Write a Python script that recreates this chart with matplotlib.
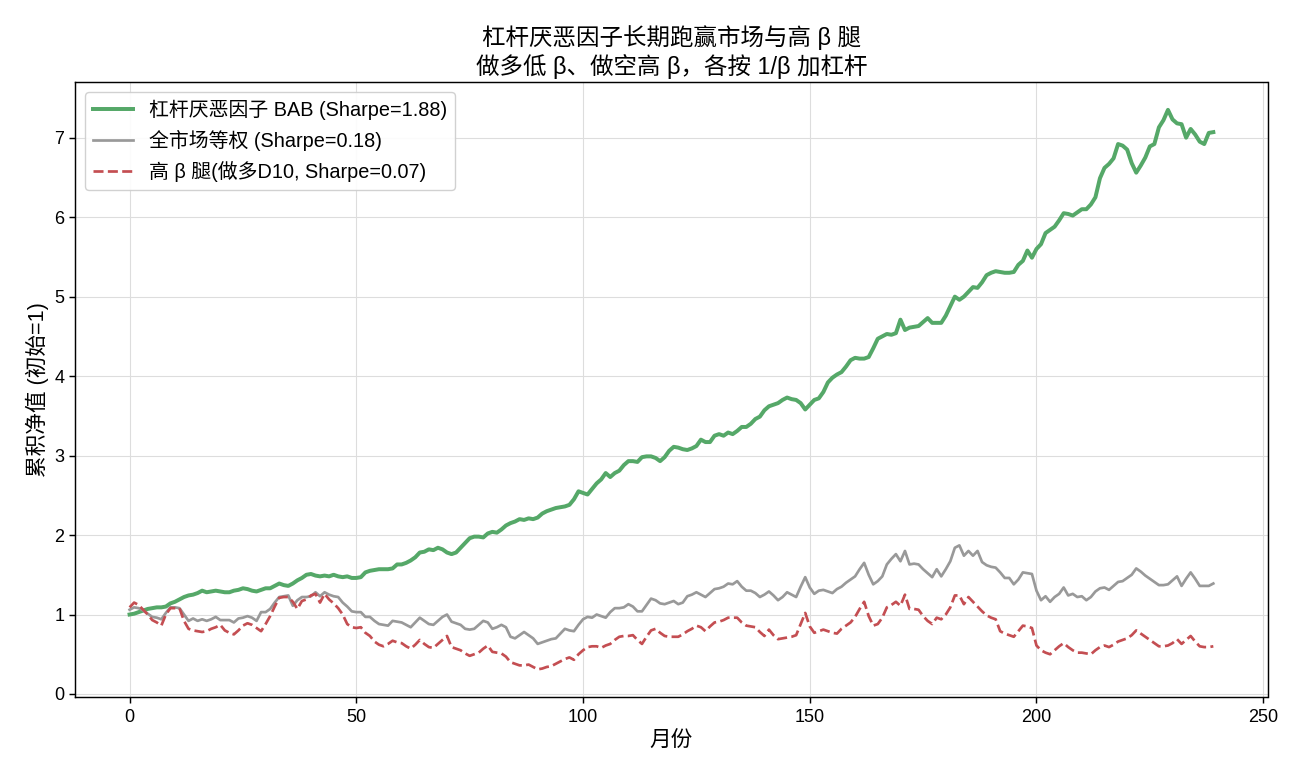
import numpy as np
import matplotlib
matplotlib.use("Agg")
import matplotlib.pyplot as plt

plt.rcParams['font.family'] = ['Liberation Sans', 'Noto Sans CJK SC', 'DejaVu Sans']
plt.rcParams['axes.unicode_minus'] = False

# 杠杆厌恶因子 BAB 累积净值
bab = [
    1.00, 1.01, 1.03, 1.05, 1.07, 1.08, 1.09, 1.09, 1.10, 1.14,
    1.16, 1.19, 1.22, 1.24, 1.25, 1.27, 1.30, 1.28, 1.29, 1.30,
    1.29, 1.28, 1.28, 1.30, 1.31, 1.33, 1.32, 1.30, 1.29, 1.31,
    1.33, 1.33, 1.36, 1.39, 1.37, 1.36, 1.39, 1.43, 1.46, 1.50,
    1.51, 1.49, 1.48, 1.49, 1.48, 1.50, 1.48, 1.47, 1.48, 1.46,
    1.46, 1.47, 1.53, 1.55, 1.56, 1.57, 1.57, 1.57, 1.58, 1.63,
    1.63, 1.65, 1.68, 1.72, 1.78, 1.79, 1.82, 1.81, 1.84, 1.82,
    1.78, 1.76, 1.78, 1.84, 1.90, 1.96, 1.98, 1.98, 1.97, 2.02,
    2.04, 2.03, 2.07, 2.12, 2.15, 2.17, 2.20, 2.19, 2.21, 2.20,
    2.22, 2.27, 2.30, 2.32, 2.34, 2.35, 2.36, 2.38, 2.45, 2.55,
    2.53, 2.51, 2.58, 2.65, 2.70, 2.78, 2.73, 2.78, 2.81, 2.88,
    2.93, 2.93, 2.92, 2.98, 2.99, 2.99, 2.97, 2.93, 2.98, 3.06,
    3.11, 3.10, 3.08, 3.07, 3.09, 3.12, 3.20, 3.17, 3.17, 3.25,
    3.27, 3.25, 3.29, 3.27, 3.31, 3.36, 3.36, 3.40, 3.46, 3.49,
    3.57, 3.62, 3.64, 3.66, 3.70, 3.73, 3.71, 3.70, 3.66, 3.58,
    3.64, 3.70, 3.72, 3.80, 3.92, 3.98, 4.02, 4.05, 4.12, 4.20,
    4.23, 4.22, 4.22, 4.24, 4.35, 4.47, 4.50, 4.53, 4.52, 4.54,
    4.71, 4.58, 4.61, 4.62, 4.63, 4.68, 4.73, 4.67, 4.67, 4.67,
    4.76, 4.88, 5.00, 4.96, 5.00, 5.06, 5.12, 5.11, 5.18, 5.27,
    5.30, 5.32, 5.31, 5.30, 5.30, 5.31, 5.40, 5.45, 5.58, 5.49,
    5.60, 5.66, 5.80, 5.84, 5.88, 5.96, 6.05, 6.04, 6.02, 6.06,
    6.10, 6.10, 6.16, 6.25, 6.49, 6.62, 6.67, 6.74, 6.92, 6.90,
    6.85, 6.68, 6.56, 6.65, 6.75, 6.89, 6.92, 7.13, 7.22, 7.35,
    7.23, 7.18, 7.17, 7.00, 7.11, 7.04, 6.95, 6.92, 7.06, 7.07,
]

# 全市场等权
mkt = [
    1.06, 1.09, 1.08, 1.05, 1.01, 0.97, 0.96, 0.94, 1.02, 1.09,
    1.09, 1.08, 1.00, 0.92, 0.95, 0.92, 0.94, 0.92, 0.94, 0.97,
    0.93, 0.93, 0.93, 0.90, 0.95, 0.96, 0.98, 0.96, 0.92, 1.03,
    1.03, 1.07, 1.15, 1.22, 1.23, 1.24, 1.11, 1.18, 1.22, 1.22,
    1.23, 1.28, 1.23, 1.28, 1.25, 1.23, 1.22, 1.15, 1.10, 1.04,
    1.03, 1.03, 0.97, 0.97, 0.92, 0.88, 0.87, 0.86, 0.92, 0.91,
    0.90, 0.87, 0.84, 0.90, 0.96, 0.92, 0.88, 0.87, 0.92, 0.97,
    1.00, 0.91, 0.89, 0.87, 0.82, 0.81, 0.82, 0.87, 0.92, 0.90,
    0.82, 0.84, 0.87, 0.84, 0.72, 0.70, 0.74, 0.78, 0.74, 0.70,
    0.63, 0.65, 0.67, 0.69, 0.70, 0.76, 0.82, 0.80, 0.79, 0.87,
    0.94, 0.97, 0.96, 1.00, 0.98, 0.96, 1.03, 1.08, 1.08, 1.09,
    1.13, 1.10, 1.04, 1.04, 1.12, 1.20, 1.18, 1.14, 1.13, 1.15,
    1.17, 1.13, 1.15, 1.23, 1.25, 1.28, 1.25, 1.22, 1.27, 1.32,
    1.33, 1.35, 1.39, 1.38, 1.42, 1.35, 1.30, 1.30, 1.27, 1.22,
    1.25, 1.29, 1.24, 1.18, 1.22, 1.28, 1.25, 1.22, 1.35, 1.47,
    1.34, 1.26, 1.30, 1.31, 1.29, 1.27, 1.32, 1.35, 1.40, 1.44,
    1.48, 1.57, 1.65, 1.50, 1.38, 1.42, 1.48, 1.63, 1.70, 1.76,
    1.67, 1.80, 1.63, 1.64, 1.63, 1.57, 1.52, 1.47, 1.57, 1.48,
    1.57, 1.67, 1.84, 1.87, 1.74, 1.80, 1.74, 1.80, 1.66, 1.62,
    1.60, 1.59, 1.53, 1.46, 1.46, 1.38, 1.44, 1.53, 1.52, 1.51,
    1.30, 1.18, 1.23, 1.16, 1.22, 1.26, 1.34, 1.24, 1.26, 1.22,
    1.23, 1.18, 1.22, 1.29, 1.33, 1.34, 1.31, 1.36, 1.41, 1.42,
    1.46, 1.50, 1.58, 1.54, 1.49, 1.45, 1.41, 1.37, 1.37, 1.38,
    1.43, 1.48, 1.36, 1.45, 1.53, 1.45, 1.36, 1.36, 1.36, 1.39,
]

# 高 beta 腿 (做多 D10)
high_beta = [
    1.09, 1.15, 1.12, 1.06, 1.00, 0.93, 0.90, 0.86, 1.00, 1.08,
    1.08, 1.08, 0.92, 0.82, 0.80, 0.79, 0.78, 0.79, 0.82, 0.84,
    0.87, 0.80, 0.77, 0.75, 0.80, 0.86, 0.89, 0.87, 0.83, 0.79,
    0.88, 0.98, 1.10, 1.21, 1.22, 1.22, 1.16, 1.07, 1.17, 1.19,
    1.24, 1.26, 1.15, 1.26, 1.19, 1.14, 1.08, 1.00, 0.88, 0.84,
    0.83, 0.84, 0.77, 0.73, 0.66, 0.62, 0.60, 0.63, 0.67, 0.65,
    0.64, 0.60, 0.57, 0.62, 0.68, 0.63, 0.59, 0.58, 0.63, 0.68,
    0.73, 0.59, 0.57, 0.55, 0.51, 0.48, 0.50, 0.52, 0.57, 0.61,
    0.53, 0.52, 0.51, 0.47, 0.40, 0.38, 0.36, 0.36, 0.37, 0.34,
    0.31, 0.32, 0.34, 0.35, 0.38, 0.41, 0.44, 0.46, 0.43, 0.50,
    0.55, 0.59, 0.60, 0.60, 0.58, 0.61, 0.63, 0.68, 0.72, 0.73,
    0.73, 0.74, 0.68, 0.63, 0.72, 0.80, 0.82, 0.77, 0.73, 0.72,
    0.72, 0.72, 0.75, 0.79, 0.82, 0.86, 0.84, 0.79, 0.85, 0.90,
    0.91, 0.93, 0.96, 0.96, 0.96, 0.90, 0.86, 0.85, 0.84, 0.78,
    0.73, 0.81, 0.74, 0.69, 0.70, 0.71, 0.72, 0.74, 0.88, 1.02,
    0.85, 0.77, 0.79, 0.81, 0.79, 0.77, 0.76, 0.82, 0.86, 0.90,
    0.97, 1.07, 1.16, 0.98, 0.86, 0.88, 0.96, 1.09, 1.12, 1.16,
    1.11, 1.25, 1.07, 1.07, 1.06, 0.98, 0.92, 0.88, 0.96, 0.94,
    1.00, 1.09, 1.24, 1.24, 1.13, 1.22, 1.16, 1.10, 1.04, 0.99,
    0.96, 0.94, 0.79, 0.76, 0.74, 0.72, 0.79, 0.86, 0.85, 0.83,
    0.61, 0.55, 0.52, 0.50, 0.55, 0.60, 0.64, 0.59, 0.55, 0.52,
    0.52, 0.51, 0.50, 0.55, 0.59, 0.61, 0.59, 0.62, 0.66, 0.68,
    0.70, 0.74, 0.80, 0.76, 0.72, 0.68, 0.64, 0.60, 0.60, 0.61,
    0.64, 0.69, 0.63, 0.68, 0.73, 0.66, 0.60, 0.59, 0.59, 0.60,
]

months = np.arange(len(bab))

# 参考图大约是 10x6 英寸、130 dpi，这里按 1.3 倍放大字号和线宽
k = 1.3
plt.rcParams['axes.linewidth'] = 0.8 * k
plt.rcParams['xtick.major.width'] = 0.8 * k
plt.rcParams['ytick.major.width'] = 0.8 * k
plt.rcParams['xtick.major.size'] = 3.5 * k
plt.rcParams['ytick.major.size'] = 3.5 * k

fig, ax = plt.subplots(figsize=(13, 7.8), dpi=100)
fig.subplots_adjust(left=0.058, right=0.975, top=0.895, bottom=0.106)

ax.plot(months, bab, color='#55a868', lw=2.2 * k, label='杠杆厌恶因子 BAB (Sharpe=1.88)')
ax.plot(months, mkt, color='#999999', lw=1.5 * k, label='全市场等权 (Sharpe=0.18)')
ax.plot(months, high_beta, color='#c44e52', lw=1.5 * k, ls='--', label='高 β 腿(做多D10, Sharpe=0.07)')

ax.set_title('杠杆厌恶因子长期跑赢市场与高 β 腿\n做多低 β、做空高 β，各按 1/β 加杠杆', fontsize=13 * k)
ax.set_xlabel('月份', fontsize=12 * k)
ax.set_ylabel('累积净值 (初始=1)', fontsize=12 * k)
ax.tick_params(labelsize=10 * k)
ax.grid(True, color='#dddddd', lw=0.6 * k)
ax.legend(loc='upper left', fontsize=11 * k, framealpha=0.9)

fig.savefig('out.png', dpi=100)
